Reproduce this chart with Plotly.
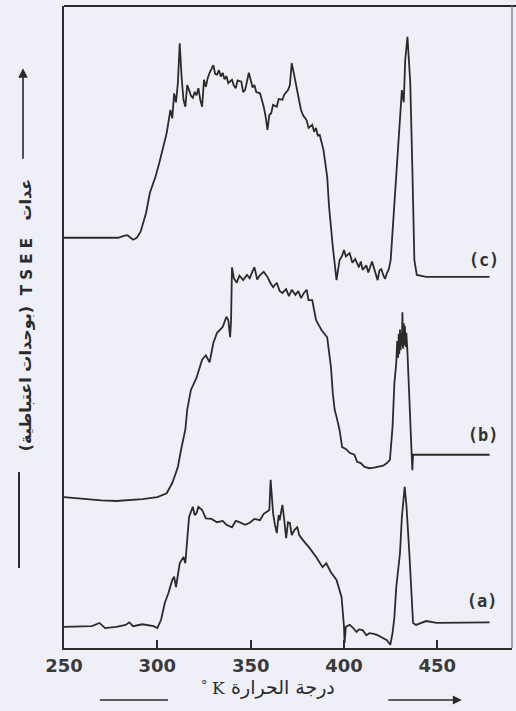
import plotly.graph_objects as go

# Temperature (K) and TSEE counts (arbitrary units, curves drawn with their vertical offsets)
temp_c = [250, 279, 282, 284, 287, 289, 291, 294, 296, 299, 301, 303, 305, 307, 308, 309, 310, 311, 312,
          313, 314, 315, 316, 317, 318, 319, 320, 321, 322, 323, 324, 325, 326, 327, 328, 330, 331, 332, 333,
          334, 335, 336, 337, 338, 340, 341, 342, 343, 345, 346, 347, 348, 349, 350, 351, 352, 353, 355, 356,
          357, 358, 359, 360, 361, 362, 364, 365, 367, 368, 370, 371, 372, 373, 374, 375, 376, 377, 378, 380,
          381, 383, 384, 385, 386, 387, 389, 391, 392, 394, 396, 397.6, 399, 400, 401, 403, 404.5, 406, 408,
          409, 410, 412, 413, 415, 417, 418, 419, 420, 421, 422, 423, 424, 425, 427, 429, 430, 431, 432, 432.8,
          434, 435.5, 436.6, 437.7, 439, 444, 478]
tsee_c = [63.9, 63.9, 64.2, 64.3, 63.6, 63.9, 64.8, 67.8, 70.9, 73.4, 75.5, 78.0, 80.2, 83.8, 82.5, 86.4, 85.0,
          88.0, 94.2, 88.9, 85.4, 84.3, 87.7, 86.9, 86.0, 85.7, 86.6, 86.1, 87.2, 85.4, 84.3, 88.5, 87.4, 88.8,
          89.6, 90.8, 89.4, 89.3, 90.0, 89.0, 89.6, 88.6, 89.1, 88.0, 88.5, 87.6, 87.2, 88.4, 88.2, 86.6, 86.9,
          88.2, 89.6, 88.5, 87.3, 87.7, 86.6, 86.4, 85.5, 84.3, 82.8, 80.7, 83.0, 83.3, 84.6, 84.3, 85.5, 85.4,
          86.2, 86.9, 87.7, 91.1, 89.7, 88.0, 86.9, 85.2, 83.8, 83.0, 82.2, 81.0, 81.5, 80.4, 81.0, 79.8, 79.9,
          77.6, 73.4, 68.7, 62.5, 57.3, 60.4, 61.1, 62.0, 61.0, 61.5, 60.0, 60.6, 59.3, 60.2, 58.9, 59.6, 58.5,
          60.2, 58.2, 57.3, 58.8, 59.0, 58.1, 57.5, 58.4, 59.0, 60.4, 69.8, 79.1, 83.8, 86.9, 85.0, 91.6, 95.2,
          88.0, 74.9, 60.4, 58.1, 57.8, 57.8]

temp_b = [250, 260, 270, 278, 292, 300, 305, 308, 311, 313, 315, 316, 318, 321, 324, 326, 328, 330, 332,
          335, 337, 338, 339, 339.5, 340, 341, 342.5, 344, 346, 348, 349.5, 351, 352, 353.5, 355, 357, 359,
          360.5, 362, 364, 365.5, 367, 369, 370.5, 372, 374, 375.5, 377, 378.5, 380, 381, 383, 385, 386.5,
          388, 391, 393, 394, 395, 396, 397.6, 399, 401, 403, 405.6, 407, 409, 411, 413.6, 416, 418, 421,
          423, 424.6, 426, 427, 428, 428.5, 429, 429.3, 429.6, 430, 430.3, 430.6, 431, 431.3, 431.6, 432,
          432.3, 432.6, 433, 433.4, 434, 435, 436, 436.6, 437, 478]
tsee_b = [23.5, 23.2, 23.0, 22.9, 23.2, 23.5, 24.1, 25.7, 28.2, 31.3, 34.0, 37.1, 40.2, 42.1, 44.9, 45.6,
          44.5, 47.5, 49.1, 50.0, 51.6, 51.1, 48.4, 51.1, 59.3, 57.6, 56.9, 58.0, 57.3, 58.1, 57.6, 58.7, 59.3,
          57.4, 58.1, 58.6, 57.8, 56.9, 56.2, 56.9, 55.6, 55.3, 55.9, 54.8, 55.8, 55.0, 55.6, 54.5, 55.3, 55.8,
          54.2, 54.2, 51.1, 50.3, 49.5, 48.4, 43.8, 39.7, 37.1, 36.0, 34.0, 31.3, 31.0, 30.4, 30.1, 29.0, 28.8,
          28.2, 28.0, 28.1, 28.2, 28.4, 28.8, 29.3, 34.4, 41.3, 44.4, 47.8, 45.2, 48.9, 45.8, 49.6, 46.4, 49.1,
          47.0, 52.3, 46.6, 50.6, 47.2, 50.2, 46.9, 49.1, 46.0, 39.7, 33.5, 27.7, 30.1, 30.1]

temp_a = [250, 260, 265, 269, 272, 278, 283, 285, 287, 292, 298, 300, 302, 304, 306, 308, 309, 310, 311,
          312, 314, 315, 316, 317, 319, 320, 321, 322, 324, 326, 329, 332, 335, 337, 340, 342, 344, 347,
          349.5, 352, 355, 357, 358.5, 360, 360.7, 361.5, 362, 363, 364, 365, 365.5, 366.5, 367, 368, 369,
          370, 371, 372, 373.5, 375, 376, 378, 381.5, 385, 388.5, 390.5, 393, 396, 398.7, 400, 400.3, 401,
          403, 405, 406.7, 408, 410, 412, 413.6, 416, 418, 420.6, 423, 424.8, 426, 427, 428, 430, 431, 432.5,
          433.5, 435, 436, 437, 438.6, 444, 449.6, 456.5, 465.5, 478]
tsee_a = [3.3, 3.3, 3.4, 3.9, 3.1, 3.3, 3.6, 4.0, 3.4, 3.7, 3.4, 3.1, 4.4, 7.0, 8.6, 10.6, 11.1, 9.5, 11.4,
          13.2, 14.2, 13.2, 16.8, 20.4, 22.0, 20.7, 21.0, 22.0, 21.5, 20.2, 20.1, 19.6, 19.8, 19.2, 18.8, 19.8,
          19.6, 19.2, 19.5, 20.1, 19.9, 20.9, 21.2, 21.5, 26.2, 22.3, 21.0, 19.2, 17.9, 20.7, 19.9, 21.5, 22.3,
          19.9, 17.1, 19.6, 19.5, 17.6, 18.4, 18.8, 17.6, 16.8, 15.6, 14.2, 12.6, 13.2, 11.8, 10.6, 7.9, 3.3,
          0.8, 3.3, 3.6, 3.1, 2.5, 2.9, 2.8, 2.0, 2.3, 2.2, 2.0, 1.6, 1.2, 0.5, 2.3, 4.8, 9.5, 14.8, 20.4,
          25.1, 22.0, 14.8, 8.6, 3.9, 3.6, 4.2, 3.9, 3.9, 4.0, 4.0]

curve_labels = ["(c)", "(b)", "(a)"]
label_temp = [475, 474.5, 474]
label_tsee = [60.1, 32.9, 7.0]

x_ticks = [250, 300, 350, 400, 450]

INK = "#2b2b2b"
PAPER = "#eff0f7"

fig = go.Figure()
for t, v in [(temp_c, tsee_c), (temp_b, tsee_b), (temp_a, tsee_a)]:
    fig.add_trace(go.Scatter(x=t, y=v, mode="lines",
                             line=dict(color=INK, width=1.8), showlegend=False,
                             hoverinfo="skip"))

fig.add_trace(go.Scatter(x=label_temp, y=label_tsee, mode="text", text=curve_labels,
                         textposition="middle center",
                         textfont=dict(family="DejaVu Sans Mono", size=17, color="#333333",
                                       weight="bold"),
                         showlegend=False, hoverinfo="skip"))

fig.update_layout(
    width=516, height=711,
    margin=dict(l=64, r=4, t=6, b=63),
    paper_bgcolor=PAPER, plot_bgcolor=PAPER,
    xaxis=dict(range=[250, 490], tickvals=x_ticks, ticktext=[str(v) for v in x_ticks],
               ticks="inside", ticklen=8, tickwidth=1.5, tickcolor=INK,
               showline=True, linewidth=2.2, linecolor=INK, mirror=False,
               showgrid=False, zeroline=False,
               tickfont=dict(family="DejaVu Sans", size=18, color="#3a3a3a", weight="bold"),
               ticklabelstandoff=0),
    yaxis=dict(range=[0, 100], showticklabels=False, ticks="",
               showline=True, linewidth=2.2, linecolor=INK, mirror=False,
               showgrid=False, zeroline=False),
)

# top and right frame edges
fig.add_shape(type="line", xref="paper", yref="paper", x0=0, x1=1.01, y0=1, y1=1,
              line=dict(color=INK, width=2))
fig.add_shape(type="line", xref="paper", yref="paper", x0=1, x1=1, y0=0, y1=1,
              line=dict(color="#8a8a90", width=1.5))

# y-axis caption, written bottom-to-top
ylab_font = dict(family="DejaVu Sans", size=16, color="#2b2b2b")
fig.add_annotation(xref="paper", yref="paper", x=-0.112, y=0.735, text="<b>عدات</b>",
                   textangle=-90, showarrow=False, font=ylab_font)
fig.add_annotation(xref="paper", yref="paper", x=-0.108, y=0.594, text="<b>T S E E</b>",
                   textangle=-90, showarrow=False,
                   font=dict(family="DejaVu Sans", size=15, color="#2b2b2b"))
fig.add_annotation(xref="paper", yref="paper", x=-0.112, y=0.419,
                   text="<b>(بوحدات اعتباطية)</b>",
                   textangle=-90, showarrow=False, font=ylab_font)
fig.add_annotation(xref="paper", yref="paper", x=-0.0915, y=0.903, ax=0, ay=92,
                   text="", showarrow=True, arrowhead=2, arrowsize=1.2, arrowwidth=1.6,
                   arrowcolor="#2b2b2b")
fig.add_shape(type="line", xref="paper", yref="paper", x0=-0.1004, x1=-0.1004,
              y0=0.1246, y1=0.274, line=dict(color="#2b2b2b", width=2))

# x-axis caption
fig.add_annotation(xref="paper", yref="paper", x=0.489, y=-0.083, text="درجة الحرارة",
                   showarrow=False, font=dict(family="DejaVu Sans", size=19, color="#2b2b2b"))
fig.add_annotation(xref="paper", yref="paper", x=0.326, y=-0.081, text="K",
                   showarrow=False, font=dict(family="DejaVu Serif", size=17, color="#2b2b2b"))
fig.add_annotation(xref="paper", yref="paper", x=0.301, y=-0.072, text="°",
                   showarrow=False, font=dict(family="DejaVu Sans", size=13, color="#2b2b2b"))
fig.add_shape(type="line", xref="paper", yref="paper", x0=0.080, x1=0.232,
              y0=-0.081, y1=-0.081, line=dict(color="#2b2b2b", width=1.5))
fig.add_annotation(xref="paper", yref="paper", x=0.888, y=-0.081, ax=-75, ay=0,
                   text="", showarrow=True, arrowhead=2, arrowsize=1.2, arrowwidth=1.5,
                   arrowcolor="#2b2b2b")

fig.write_html("out.html")
